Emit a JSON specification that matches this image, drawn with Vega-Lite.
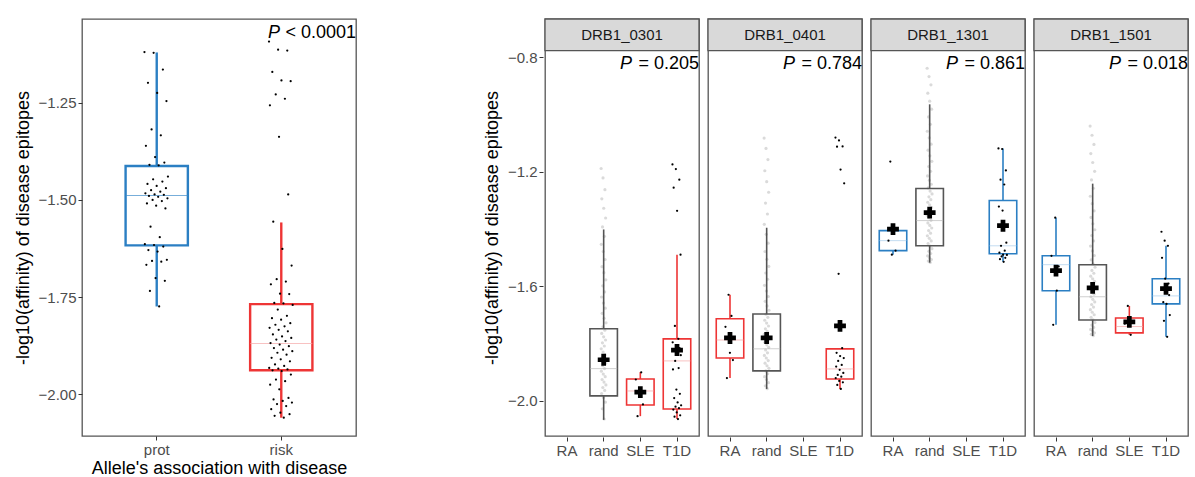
{
  "$schema": "https://vega.github.io/schema/vega-lite/v6.json",
  "background": "white",
  "padding": {"left": 13, "top": 17, "right": 2, "bottom": 0},
  "config": {
    "font": "Liberation Sans",
    "view": {"stroke": "#555555", "strokeWidth": 1.3},
    "axis": {"grid": false, "domain": false, "labelFontSize": 15, "labelColor": "#4D4D4D", "tickColor": "#333333", "tickSize": 4, "labelPadding": 2, "titleFontSize": 18, "titleFontWeight": "normal", "titleColor": "#000000", "titlePadding": 6},
    "axisX": {"labelAngle": 0, "titlePadding": 2}
  },
  "resolve": {"scale": {"color": "independent", "xOffset": "independent"}},
  "datasets": {
    "lstat": [
      {"g": "prot", "lo": -1.774, "q1": -1.617, "md": -1.489, "q3": -1.413, "hi": -1.121},
      {"g": "risk", "lo": -2.06, "q1": -1.938, "md": -1.869, "q3": -1.768, "hi": -1.558}
    ],
    "lab": [{"p": "< 0.0001"}],
    "lpts": [
      {"g":"prot","v":-1.120},{"g":"prot","v":-1.614},{"g":"prot","v":-1.483},{"g":"prot","v":-1.361},{"g":"prot","v":-1.667},{"g":"prot","v":-1.509},{"g":"prot","v":-1.459},{"g":"prot","v":-1.199},{"g":"prot","v":-1.629},{"g":"prot","v":-1.490},{"g":"prot","v":-1.410},{"g":"prot","v":-1.734},{"g":"prot","v":-1.569},{"g":"prot","v":-1.475},{"g":"prot","v":-1.319},{"g":"prot","v":-1.657},{"g":"prot","v":-1.500},{"g":"prot","v":-1.447},{"g":"prot","v":-1.122},{"g":"prot","v":-1.616},{"g":"prot","v":-1.486},{"g":"prot","v":-1.390},{"g":"prot","v":-1.701},{"g":"prot","v":-1.515},{"g":"prot","v":-1.464},{"g":"prot","v":-1.225},{"g":"prot","v":-1.633},{"g":"prot","v":-1.492},{"g":"prot","v":-1.411},{"g":"prot","v":-1.774},{"g":"prot","v":-1.596},{"g":"prot","v":-1.479},{"g":"prot","v":-1.334},{"g":"prot","v":-1.659},{"g":"prot","v":-1.503},{"g":"prot","v":-1.453},{"g":"prot","v":-1.165},{"g":"prot","v":-1.620},{"g":"prot","v":-1.487},{"g":"prot","v":-1.404},{"g":"prot","v":-1.708},{"g":"prot","v":-1.522},{"g":"prot","v":-1.470},{"g":"prot","v":-1.246},{"g":"prot","v":-1.654},{"g":"prot","v":-1.496},{"g":"prot","v":-1.440},
      {"g":"risk","v":-1.093},{"g":"risk","v":-1.932},{"g":"risk","v":-1.829},{"g":"risk","v":-1.257},{"g":"risk","v":-1.975},{"g":"risk","v":-1.868},{"g":"risk","v":-1.717},{"g":"risk","v":-2.038},{"g":"risk","v":-1.906},{"g":"risk","v":-1.804},{"g":"risk","v":-1.171},{"g":"risk","v":-1.938},{"g":"risk","v":-1.846},{"g":"risk","v":-1.556},{"g":"risk","v":-2.013},{"g":"risk","v":-1.881},{"g":"risk","v":-1.765},{"g":"risk","v":-2.055},{"g":"risk","v":-1.923},{"g":"risk","v":-1.821},{"g":"risk","v":-1.229},{"g":"risk","v":-1.962},{"g":"risk","v":-1.859},{"g":"risk","v":-1.704},{"g":"risk","v":-2.025},{"g":"risk","v":-1.893},{"g":"risk","v":-1.782},{"g":"risk","v":-1.114},{"g":"risk","v":-1.934},{"g":"risk","v":-1.834},{"g":"risk","v":-1.338},{"g":"risk","v":-1.987},{"g":"risk","v":-1.872},{"g":"risk","v":-1.741},{"g":"risk","v":-2.047},{"g":"risk","v":-1.910},{"g":"risk","v":-1.808},{"g":"risk","v":-1.193},{"g":"risk","v":-1.940},{"g":"risk","v":-1.851},{"g":"risk","v":-1.626},{"g":"risk","v":-2.017},{"g":"risk","v":-1.885},{"g":"risk","v":-1.766},{"g":"risk","v":-2.060},{"g":"risk","v":-1.927},{"g":"risk","v":-1.825},{"g":"risk","v":-1.240},{"g":"risk","v":-1.966},{"g":"risk","v":-1.863},{"g":"risk","v":-1.710},{"g":"risk","v":-2.030},{"g":"risk","v":-1.898},{"g":"risk","v":-1.798},{"g":"risk","v":-1.116},{"g":"risk","v":-1.936},{"g":"risk","v":-1.838},{"g":"risk","v":-1.486},{"g":"risk","v":-2.009},{"g":"risk","v":-1.876},{"g":"risk","v":-1.742},{"g":"risk","v":-2.051},{"g":"risk","v":-1.915},{"g":"risk","v":-1.817},{"g":"risk","v":-1.195},{"g":"risk","v":-1.949},{"g":"risk","v":-1.855},{"g":"risk","v":-1.669},{"g":"risk","v":-2.021},{"g":"risk","v":-1.889},{"g":"risk","v":-1.770}
    ],
    "right": [
      {"t":"s","a":"DRB1_0301","p":"= 0.205"},
      {"t":"s","a":"DRB1_0401","p":"= 0.784"},
      {"t":"s","a":"DRB1_1301","p":"= 0.861"},
      {"t":"s","a":"DRB1_1501","p":"= 0.018"},
      {"t":"b","a":"DRB1_0301","d":"rand","k":"rand","lo":-2.066,"q1":-1.982,"md":-1.887,"q3":-1.748,"hi":-1.401,"mn":-1.856},
      {"t":"b","a":"DRB1_0301","d":"SLE","k":"risk","lo":-2.053,"q1":-2.014,"md":-1.965,"q3":-1.923,"hi":-1.899,"mn":-1.969},
      {"t":"b","a":"DRB1_0301","d":"T1D","k":"risk","lo":-2.063,"q1":-2.028,"md":-1.860,"q3":-1.783,"hi":-1.489,"mn":-1.822},
      {"t":"b","a":"DRB1_0401","d":"RA","k":"risk","lo":-1.920,"q1":-1.850,"md":-1.787,"q3":-1.713,"hi":-1.629,"mn":-1.780},
      {"t":"b","a":"DRB1_0401","d":"rand","k":"rand","lo":-1.958,"q1":-1.895,"md":-1.818,"q3":-1.696,"hi":-1.395,"mn":-1.780},
      {"t":"b","a":"DRB1_0401","d":"T1D","k":"risk","lo":-1.958,"q1":-1.923,"md":-1.888,"q3":-1.818,"hi":-1.815,"mn":-1.738},
      {"t":"b","a":"DRB1_1301","d":"RA","k":"prot","lo":-1.489,"q1":-1.475,"md":-1.440,"q3":-1.405,"hi":-1.405,"mn":-1.400},
      {"t":"b","a":"DRB1_1301","d":"rand","k":"rand","lo":-1.517,"q1":-1.458,"md":-1.370,"q3":-1.258,"hi":-0.964,"mn":-1.342},
      {"t":"b","a":"DRB1_1301","d":"T1D","k":"prot","lo":-1.514,"q1":-1.486,"md":-1.458,"q3":-1.300,"hi":-1.118,"mn":-1.388},
      {"t":"b","a":"DRB1_1501","d":"RA","k":"prot","lo":-1.734,"q1":-1.615,"md":-1.524,"q3":-1.493,"hi":-1.360,"mn":-1.545},
      {"t":"b","a":"DRB1_1501","d":"rand","k":"rand","lo":-1.773,"q1":-1.717,"md":-1.636,"q3":-1.524,"hi":-1.241,"mn":-1.605},
      {"t":"b","a":"DRB1_1501","d":"SLE","k":"risk","lo":-1.769,"q1":-1.762,"md":-1.740,"q3":-1.710,"hi":-1.668,"mn":-1.724},
      {"t":"b","a":"DRB1_1501","d":"T1D","k":"prot","lo":-1.776,"q1":-1.661,"md":-1.633,"q3":-1.573,"hi":-1.458,"mn":-1.608},
      {"t":"p","a":"DRB1_0301","d":"SLE","v":-1.925},{"t":"p","a":"DRB1_0301","d":"SLE","v":-2.053},{"t":"p","a":"DRB1_0301","d":"SLE","v":-1.965},{"t":"p","a":"DRB1_0301","d":"SLE","v":-1.900},{"t":"p","a":"DRB1_0301","d":"SLE","v":-2.012},
      {"t":"p","a":"DRB1_0301","d":"T1D","v":-1.174},{"t":"p","a":"DRB1_0301","d":"T1D","v":-1.795},{"t":"p","a":"DRB1_0301","d":"T1D","v":-1.890},{"t":"p","a":"DRB1_0301","d":"T1D","v":-2.030},{"t":"p","a":"DRB1_0301","d":"T1D","v":-1.255},{"t":"p","a":"DRB1_0301","d":"T1D","v":-1.820},{"t":"p","a":"DRB1_0301","d":"T1D","v":-1.990},{"t":"p","a":"DRB1_0301","d":"T1D","v":-2.055},{"t":"p","a":"DRB1_0301","d":"T1D","v":-1.738},{"t":"p","a":"DRB1_0301","d":"T1D","v":-1.860},{"t":"p","a":"DRB1_0301","d":"T1D","v":-2.020},{"t":"p","a":"DRB1_0301","d":"T1D","v":-1.190},{"t":"p","a":"DRB1_0301","d":"T1D","v":-1.805},{"t":"p","a":"DRB1_0301","d":"T1D","v":-1.960},{"t":"p","a":"DRB1_0301","d":"T1D","v":-2.040},{"t":"p","a":"DRB1_0301","d":"T1D","v":-1.336},{"t":"p","a":"DRB1_0301","d":"T1D","v":-1.830},{"t":"p","a":"DRB1_0301","d":"T1D","v":-2.005},{"t":"p","a":"DRB1_0301","d":"T1D","v":-2.063},{"t":"p","a":"DRB1_0301","d":"T1D","v":-1.783},{"t":"p","a":"DRB1_0301","d":"T1D","v":-1.885},{"t":"p","a":"DRB1_0301","d":"T1D","v":-2.025},{"t":"p","a":"DRB1_0301","d":"T1D","v":-1.227},{"t":"p","a":"DRB1_0301","d":"T1D","v":-1.815},{"t":"p","a":"DRB1_0301","d":"T1D","v":-1.975},{"t":"p","a":"DRB1_0301","d":"T1D","v":-2.050},{"t":"p","a":"DRB1_0301","d":"T1D","v":-1.489},{"t":"p","a":"DRB1_0301","d":"T1D","v":-1.840},{"t":"p","a":"DRB1_0301","d":"T1D","v":-2.015},
      {"t":"p","a":"DRB1_0401","d":"RA","v":-1.741},{"t":"p","a":"DRB1_0401","d":"RA","v":-1.920},{"t":"p","a":"DRB1_0401","d":"RA","v":-1.629},{"t":"p","a":"DRB1_0401","d":"RA","v":-1.832},{"t":"p","a":"DRB1_0401","d":"RA","v":-1.703},{"t":"p","a":"DRB1_0401","d":"RA","v":-1.857},
      {"t":"p","a":"DRB1_0401","d":"T1D","v":-1.080},{"t":"p","a":"DRB1_0401","d":"T1D","v":-1.920},{"t":"p","a":"DRB1_0401","d":"T1D","v":-1.880},{"t":"p","a":"DRB1_0401","d":"T1D","v":-1.832},{"t":"p","a":"DRB1_0401","d":"T1D","v":-1.112},{"t":"p","a":"DRB1_0401","d":"T1D","v":-1.944},{"t":"p","a":"DRB1_0401","d":"T1D","v":-1.909},{"t":"p","a":"DRB1_0401","d":"T1D","v":-1.860},{"t":"p","a":"DRB1_0401","d":"T1D","v":-1.556},{"t":"p","a":"DRB1_0401","d":"T1D","v":-1.090},{"t":"p","a":"DRB1_0401","d":"T1D","v":-1.930},{"t":"p","a":"DRB1_0401","d":"T1D","v":-1.891},{"t":"p","a":"DRB1_0401","d":"T1D","v":-1.843},{"t":"p","a":"DRB1_0401","d":"T1D","v":-1.192},{"t":"p","a":"DRB1_0401","d":"T1D","v":-1.958},{"t":"p","a":"DRB1_0401","d":"T1D","v":-1.915},{"t":"p","a":"DRB1_0401","d":"T1D","v":-1.874},{"t":"p","a":"DRB1_0401","d":"T1D","v":-1.815},{"t":"p","a":"DRB1_0401","d":"T1D","v":-1.111},{"t":"p","a":"DRB1_0401","d":"T1D","v":-1.935},{"t":"p","a":"DRB1_0401","d":"T1D","v":-1.902},{"t":"p","a":"DRB1_0401","d":"T1D","v":-1.850},{"t":"p","a":"DRB1_0401","d":"T1D","v":-1.240},
      {"t":"p","a":"DRB1_1301","d":"RA","v":-1.440},{"t":"p","a":"DRB1_1301","d":"RA","v":-1.164},{"t":"p","a":"DRB1_1301","d":"RA","v":-1.489},{"t":"p","a":"DRB1_1301","d":"RA","v":-1.405},{"t":"p","a":"DRB1_1301","d":"RA","v":-1.475},
      {"t":"p","a":"DRB1_1301","d":"T1D","v":-1.118},{"t":"p","a":"DRB1_1301","d":"T1D","v":-1.321},{"t":"p","a":"DRB1_1301","d":"T1D","v":-1.482},{"t":"p","a":"DRB1_1301","d":"T1D","v":-1.505},{"t":"p","a":"DRB1_1301","d":"T1D","v":-1.227},{"t":"p","a":"DRB1_1301","d":"T1D","v":-1.458},{"t":"p","a":"DRB1_1301","d":"T1D","v":-1.495},{"t":"p","a":"DRB1_1301","d":"T1D","v":-1.120},{"t":"p","a":"DRB1_1301","d":"T1D","v":-1.335},{"t":"p","a":"DRB1_1301","d":"T1D","v":-1.489},{"t":"p","a":"DRB1_1301","d":"T1D","v":-1.514},{"t":"p","a":"DRB1_1301","d":"T1D","v":-1.244},{"t":"p","a":"DRB1_1301","d":"T1D","v":-1.475},{"t":"p","a":"DRB1_1301","d":"T1D","v":-1.500},{"t":"p","a":"DRB1_1301","d":"T1D","v":-1.195},{"t":"p","a":"DRB1_1301","d":"T1D","v":-1.447},{"t":"p","a":"DRB1_1301","d":"T1D","v":-1.490},
      {"t":"p","a":"DRB1_1501","d":"RA","v":-1.493},{"t":"p","a":"DRB1_1501","d":"RA","v":-1.734},{"t":"p","a":"DRB1_1501","d":"RA","v":-1.360},{"t":"p","a":"DRB1_1501","d":"RA","v":-1.615},{"t":"p","a":"DRB1_1501","d":"RA","v":-1.530},
      {"t":"p","a":"DRB1_1501","d":"SLE","v":-1.730},{"t":"p","a":"DRB1_1501","d":"SLE","v":-1.668},{"t":"p","a":"DRB1_1501","d":"SLE","v":-1.769},
      {"t":"p","a":"DRB1_1501","d":"T1D","v":-1.409},{"t":"p","a":"DRB1_1501","d":"T1D","v":-1.500},{"t":"p","a":"DRB1_1501","d":"T1D","v":-1.610},{"t":"p","a":"DRB1_1501","d":"T1D","v":-1.655},{"t":"p","a":"DRB1_1501","d":"T1D","v":-1.720},{"t":"p","a":"DRB1_1501","d":"T1D","v":-1.440},{"t":"p","a":"DRB1_1501","d":"T1D","v":-1.573},{"t":"p","a":"DRB1_1501","d":"T1D","v":-1.620},{"t":"p","a":"DRB1_1501","d":"T1D","v":-1.661},{"t":"p","a":"DRB1_1501","d":"T1D","v":-1.776},{"t":"p","a":"DRB1_1501","d":"T1D","v":-1.458},{"t":"p","a":"DRB1_1501","d":"T1D","v":-1.590},{"t":"p","a":"DRB1_1501","d":"T1D","v":-1.630},{"t":"p","a":"DRB1_1501","d":"T1D","v":-1.700},
      {"t":"r","a":"DRB1_0301","d":"rand","v":-1.188},{"t":"r","a":"DRB1_0301","d":"rand","v":-1.818},{"t":"r","a":"DRB1_0301","d":"rand","v":-1.453},{"t":"r","a":"DRB1_0301","d":"rand","v":-1.896},{"t":"r","a":"DRB1_0301","d":"rand","v":-1.637},{"t":"r","a":"DRB1_0301","d":"rand","v":-1.974},{"t":"r","a":"DRB1_0301","d":"rand","v":-1.764},{"t":"r","a":"DRB1_0301","d":"rand","v":-1.294},{"t":"r","a":"DRB1_0301","d":"rand","v":-1.849},{"t":"r","a":"DRB1_0301","d":"rand","v":-1.531},{"t":"r","a":"DRB1_0301","d":"rand","v":-1.925},{"t":"r","a":"DRB1_0301","d":"rand","v":-1.694},{"t":"r","a":"DRB1_0301","d":"rand","v":-2.027},{"t":"r","a":"DRB1_0301","d":"rand","v":-1.797},{"t":"r","a":"DRB1_0301","d":"rand","v":-1.392},{"t":"r","a":"DRB1_0301","d":"rand","v":-1.877},{"t":"r","a":"DRB1_0301","d":"rand","v":-1.598},{"t":"r","a":"DRB1_0301","d":"rand","v":-1.953},{"t":"r","a":"DRB1_0301","d":"rand","v":-1.741},{"t":"r","a":"DRB1_0301","d":"rand","v":-1.221},{"t":"r","a":"DRB1_0301","d":"rand","v":-1.829},{"t":"r","a":"DRB1_0301","d":"rand","v":-1.478},{"t":"r","a":"DRB1_0301","d":"rand","v":-1.906},{"t":"r","a":"DRB1_0301","d":"rand","v":-1.658},{"t":"r","a":"DRB1_0301","d":"rand","v":-1.988},{"t":"r","a":"DRB1_0301","d":"rand","v":-1.776},{"t":"r","a":"DRB1_0301","d":"rand","v":-1.327},{"t":"r","a":"DRB1_0301","d":"rand","v":-1.858},{"t":"r","a":"DRB1_0301","d":"rand","v":-1.552},{"t":"r","a":"DRB1_0301","d":"rand","v":-1.934},{"t":"r","a":"DRB1_0301","d":"rand","v":-1.711},{"t":"r","a":"DRB1_0301","d":"rand","v":-2.063},{"t":"r","a":"DRB1_0301","d":"rand","v":-1.808},{"t":"r","a":"DRB1_0301","d":"rand","v":-1.425},{"t":"r","a":"DRB1_0301","d":"rand","v":-1.887},{"t":"r","a":"DRB1_0301","d":"rand","v":-1.619},{"t":"r","a":"DRB1_0301","d":"rand","v":-1.963},{"t":"r","a":"DRB1_0301","d":"rand","v":-1.753},{"t":"r","a":"DRB1_0301","d":"rand","v":-1.262},{"t":"r","a":"DRB1_0301","d":"rand","v":-1.839},{"t":"r","a":"DRB1_0301","d":"rand","v":-1.506},{"t":"r","a":"DRB1_0301","d":"rand","v":-1.915},{"t":"r","a":"DRB1_0301","d":"rand","v":-1.676},{"t":"r","a":"DRB1_0301","d":"rand","v":-2.004},{"t":"r","a":"DRB1_0301","d":"rand","v":-1.787},{"t":"r","a":"DRB1_0301","d":"rand","v":-1.361},{"t":"r","a":"DRB1_0301","d":"rand","v":-1.868},{"t":"r","a":"DRB1_0301","d":"rand","v":-1.577},{"t":"r","a":"DRB1_0301","d":"rand","v":-1.944},{"t":"r","a":"DRB1_0301","d":"rand","v":-1.727},
      {"t":"r","a":"DRB1_0401","d":"rand","v":-1.082},{"t":"r","a":"DRB1_0401","d":"rand","v":-1.767},{"t":"r","a":"DRB1_0401","d":"rand","v":-1.383},{"t":"r","a":"DRB1_0401","d":"rand","v":-1.841},{"t":"r","a":"DRB1_0401","d":"rand","v":-1.596},{"t":"r","a":"DRB1_0401","d":"rand","v":-1.915},{"t":"r","a":"DRB1_0401","d":"rand","v":-1.718},{"t":"r","a":"DRB1_0401","d":"rand","v":-1.196},{"t":"r","a":"DRB1_0401","d":"rand","v":-1.795},{"t":"r","a":"DRB1_0401","d":"rand","v":-1.478},{"t":"r","a":"DRB1_0401","d":"rand","v":-1.868},{"t":"r","a":"DRB1_0401","d":"rand","v":-1.652},{"t":"r","a":"DRB1_0401","d":"rand","v":-1.947},{"t":"r","a":"DRB1_0401","d":"rand","v":-1.748},{"t":"r","a":"DRB1_0401","d":"rand","v":-1.309},{"t":"r","a":"DRB1_0401","d":"rand","v":-1.822},{"t":"r","a":"DRB1_0401","d":"rand","v":-1.553},{"t":"r","a":"DRB1_0401","d":"rand","v":-1.895},{"t":"r","a":"DRB1_0401","d":"rand","v":-1.697},{"t":"r","a":"DRB1_0401","d":"rand","v":-1.118},{"t":"r","a":"DRB1_0401","d":"rand","v":-1.776},{"t":"r","a":"DRB1_0401","d":"rand","v":-1.418},{"t":"r","a":"DRB1_0401","d":"rand","v":-1.850},{"t":"r","a":"DRB1_0401","d":"rand","v":-1.616},{"t":"r","a":"DRB1_0401","d":"rand","v":-1.925},{"t":"r","a":"DRB1_0401","d":"rand","v":-1.728},{"t":"r","a":"DRB1_0401","d":"rand","v":-1.234},{"t":"r","a":"DRB1_0401","d":"rand","v":-1.804},{"t":"r","a":"DRB1_0401","d":"rand","v":-1.505},{"t":"r","a":"DRB1_0401","d":"rand","v":-1.877},{"t":"r","a":"DRB1_0401","d":"rand","v":-1.668},{"t":"r","a":"DRB1_0401","d":"rand","v":-1.957},{"t":"r","a":"DRB1_0401","d":"rand","v":-1.757},{"t":"r","a":"DRB1_0401","d":"rand","v":-1.347},{"t":"r","a":"DRB1_0401","d":"rand","v":-1.832},{"t":"r","a":"DRB1_0401","d":"rand","v":-1.575},{"t":"r","a":"DRB1_0401","d":"rand","v":-1.905},{"t":"r","a":"DRB1_0401","d":"rand","v":-1.708},{"t":"r","a":"DRB1_0401","d":"rand","v":-1.157},{"t":"r","a":"DRB1_0401","d":"rand","v":-1.785},{"t":"r","a":"DRB1_0401","d":"rand","v":-1.449},{"t":"r","a":"DRB1_0401","d":"rand","v":-1.859},{"t":"r","a":"DRB1_0401","d":"rand","v":-1.635},{"t":"r","a":"DRB1_0401","d":"rand","v":-1.936},{"t":"r","a":"DRB1_0401","d":"rand","v":-1.738},{"t":"r","a":"DRB1_0401","d":"rand","v":-1.271},{"t":"r","a":"DRB1_0401","d":"rand","v":-1.813},{"t":"r","a":"DRB1_0401","d":"rand","v":-1.530},{"t":"r","a":"DRB1_0401","d":"rand","v":-1.886},{"t":"r","a":"DRB1_0401","d":"rand","v":-1.683},
      {"t":"r","a":"DRB1_1301","d":"rand","v":-0.838},{"t":"r","a":"DRB1_1301","d":"rand","v":-1.351},{"t":"r","a":"DRB1_1301","d":"rand","v":-1.058},{"t":"r","a":"DRB1_1301","d":"rand","v":-1.423},{"t":"r","a":"DRB1_1301","d":"rand","v":-1.214},{"t":"r","a":"DRB1_1301","d":"rand","v":-1.493},{"t":"r","a":"DRB1_1301","d":"rand","v":-1.306},{"t":"r","a":"DRB1_1301","d":"rand","v":-0.925},{"t":"r","a":"DRB1_1301","d":"rand","v":-1.378},{"t":"r","a":"DRB1_1301","d":"rand","v":-1.124},{"t":"r","a":"DRB1_1301","d":"rand","v":-1.450},{"t":"r","a":"DRB1_1301","d":"rand","v":-1.256},{"t":"r","a":"DRB1_1301","d":"rand","v":-1.511},{"t":"r","a":"DRB1_1301","d":"rand","v":-1.333},{"t":"r","a":"DRB1_1301","d":"rand","v":-1.008},{"t":"r","a":"DRB1_1301","d":"rand","v":-1.405},{"t":"r","a":"DRB1_1301","d":"rand","v":-1.181},{"t":"r","a":"DRB1_1301","d":"rand","v":-1.477},{"t":"r","a":"DRB1_1301","d":"rand","v":-1.287},{"t":"r","a":"DRB1_1301","d":"rand","v":-0.867},{"t":"r","a":"DRB1_1301","d":"rand","v":-1.360},{"t":"r","a":"DRB1_1301","d":"rand","v":-1.081},{"t":"r","a":"DRB1_1301","d":"rand","v":-1.432},{"t":"r","a":"DRB1_1301","d":"rand","v":-1.229},{"t":"r","a":"DRB1_1301","d":"rand","v":-1.500},{"t":"r","a":"DRB1_1301","d":"rand","v":-1.315},{"t":"r","a":"DRB1_1301","d":"rand","v":-0.953},{"t":"r","a":"DRB1_1301","d":"rand","v":-1.387},{"t":"r","a":"DRB1_1301","d":"rand","v":-1.144},{"t":"r","a":"DRB1_1301","d":"rand","v":-1.459},{"t":"r","a":"DRB1_1301","d":"rand","v":-1.267},{"t":"r","a":"DRB1_1301","d":"rand","v":-1.516},{"t":"r","a":"DRB1_1301","d":"rand","v":-1.342},{"t":"r","a":"DRB1_1301","d":"rand","v":-1.034},{"t":"r","a":"DRB1_1301","d":"rand","v":-1.414},{"t":"r","a":"DRB1_1301","d":"rand","v":-1.198},{"t":"r","a":"DRB1_1301","d":"rand","v":-1.485},{"t":"r","a":"DRB1_1301","d":"rand","v":-1.297},{"t":"r","a":"DRB1_1301","d":"rand","v":-0.896},{"t":"r","a":"DRB1_1301","d":"rand","v":-1.369},{"t":"r","a":"DRB1_1301","d":"rand","v":-1.103},{"t":"r","a":"DRB1_1301","d":"rand","v":-1.441},{"t":"r","a":"DRB1_1301","d":"rand","v":-1.243},{"t":"r","a":"DRB1_1301","d":"rand","v":-1.506},{"t":"r","a":"DRB1_1301","d":"rand","v":-1.324},{"t":"r","a":"DRB1_1301","d":"rand","v":-0.981},{"t":"r","a":"DRB1_1301","d":"rand","v":-1.396},{"t":"r","a":"DRB1_1301","d":"rand","v":-1.163},{"t":"r","a":"DRB1_1301","d":"rand","v":-1.468},{"t":"r","a":"DRB1_1301","d":"rand","v":-1.277},
      {"t":"r","a":"DRB1_1501","d":"rand","v":-1.040},{"t":"r","a":"DRB1_1501","d":"rand","v":-1.609},{"t":"r","a":"DRB1_1501","d":"rand","v":-1.285},{"t":"r","a":"DRB1_1501","d":"rand","v":-1.681},{"t":"r","a":"DRB1_1501","d":"rand","v":-1.459},{"t":"r","a":"DRB1_1501","d":"rand","v":-1.750},{"t":"r","a":"DRB1_1501","d":"rand","v":-1.564},{"t":"r","a":"DRB1_1501","d":"rand","v":-1.136},{"t":"r","a":"DRB1_1501","d":"rand","v":-1.636},{"t":"r","a":"DRB1_1501","d":"rand","v":-1.359},{"t":"r","a":"DRB1_1501","d":"rand","v":-1.708},{"t":"r","a":"DRB1_1501","d":"rand","v":-1.507},{"t":"r","a":"DRB1_1501","d":"rand","v":-1.767},{"t":"r","a":"DRB1_1501","d":"rand","v":-1.591},{"t":"r","a":"DRB1_1501","d":"rand","v":-1.228},{"t":"r","a":"DRB1_1501","d":"rand","v":-1.663},{"t":"r","a":"DRB1_1501","d":"rand","v":-1.422},{"t":"r","a":"DRB1_1501","d":"rand","v":-1.735},{"t":"r","a":"DRB1_1501","d":"rand","v":-1.544},{"t":"r","a":"DRB1_1501","d":"rand","v":-1.072},{"t":"r","a":"DRB1_1501","d":"rand","v":-1.618},{"t":"r","a":"DRB1_1501","d":"rand","v":-1.311},{"t":"r","a":"DRB1_1501","d":"rand","v":-1.690},{"t":"r","a":"DRB1_1501","d":"rand","v":-1.476},{"t":"r","a":"DRB1_1501","d":"rand","v":-1.756},{"t":"r","a":"DRB1_1501","d":"rand","v":-1.573},{"t":"r","a":"DRB1_1501","d":"rand","v":-1.167},{"t":"r","a":"DRB1_1501","d":"rand","v":-1.645},{"t":"r","a":"DRB1_1501","d":"rand","v":-1.381},{"t":"r","a":"DRB1_1501","d":"rand","v":-1.717},{"t":"r","a":"DRB1_1501","d":"rand","v":-1.521},{"t":"r","a":"DRB1_1501","d":"rand","v":-1.772},{"t":"r","a":"DRB1_1501","d":"rand","v":-1.600},{"t":"r","a":"DRB1_1501","d":"rand","v":-1.257},{"t":"r","a":"DRB1_1501","d":"rand","v":-1.672},{"t":"r","a":"DRB1_1501","d":"rand","v":-1.441},{"t":"r","a":"DRB1_1501","d":"rand","v":-1.743},{"t":"r","a":"DRB1_1501","d":"rand","v":-1.554},{"t":"r","a":"DRB1_1501","d":"rand","v":-1.104},{"t":"r","a":"DRB1_1501","d":"rand","v":-1.627},{"t":"r","a":"DRB1_1501","d":"rand","v":-1.336},{"t":"r","a":"DRB1_1501","d":"rand","v":-1.699},{"t":"r","a":"DRB1_1501","d":"rand","v":-1.492},{"t":"r","a":"DRB1_1501","d":"rand","v":-1.762},{"t":"r","a":"DRB1_1501","d":"rand","v":-1.582},{"t":"r","a":"DRB1_1501","d":"rand","v":-1.198},{"t":"r","a":"DRB1_1501","d":"rand","v":-1.654},{"t":"r","a":"DRB1_1501","d":"rand","v":-1.402},{"t":"r","a":"DRB1_1501","d":"rand","v":-1.726},{"t":"r","a":"DRB1_1501","d":"rand","v":-1.533}
    ]
  },
  "spacing": 126,
  "hconcat": [
    {
      "width": 274,
      "height": 417,
      "resolve": {"scale": {"xOffset": "independent"}},
      "layer": [
        {
          "data": {"name": "lstat"},
          "mark": {"type": "rule", "strokeWidth": 2.4},
          "encoding": {
            "x": {"field": "g", "type": "nominal", "scale": {"domain": ["prot", "risk"], "paddingInner": 0, "paddingOuter": 0.1}, "axis": {"title": "Allele's association with disease"}},
            "y": {"field": "hi", "type": "quantitative", "scale": {"domain": [-2.107, -1.035], "nice": false, "zero": false}, "axis": {"values": [-2, -1.75, -1.5, -1.25], "format": ".2f", "labelExpr": "replace(datum.label, '-', '\u2212')", "title": "-log10(affinity) of disease epitopes"}},
            "y2": {"field": "q3"},
            "color": {"field": "g", "type": "nominal", "scale": {"domain": ["prot", "risk"], "range": ["#2B7FC3", "#EE3535"]}, "legend": null}
          }
        },
        {
          "data": {"name": "lstat"},
          "mark": {"type": "rule", "strokeWidth": 2.4},
          "encoding": {
            "x": {"field": "g", "type": "nominal"},
            "y": {"field": "q1", "type": "quantitative"},
            "y2": {"field": "lo"},
            "color": {"field": "g", "type": "nominal", "legend": null}
          }
        },
        {
          "data": {"name": "lstat"},
          "mark": {"type": "bar", "filled": false, "strokeWidth": 2.4, "width": {"band": 0.5}},
          "encoding": {
            "x": {"field": "g", "type": "nominal"},
            "y": {"field": "q1", "type": "quantitative"},
            "y2": {"field": "q3"},
            "color": {"field": "g", "type": "nominal", "legend": null}
          }
        },
        {
          "data": {"name": "lstat"},
          "mark": {"type": "tick", "thickness": 1, "size": 62},
          "encoding": {
            "x": {"field": "g", "type": "nominal"},
            "y": {"field": "md", "type": "quantitative"},
            "color": {"condition": {"test": "datum.g === 'risk'", "value": "#F5A8A8"}, "value": "#3D8BCB"}
          }
        },
        {
          "data": {"name": "lpts"},
          "transform": [{"stack": "v", "groupby": ["g"], "offset": "normalize", "as": ["j0", "j1"]}],
          "mark": {"type": "circle", "size": 5, "opacity": 1, "color": "#000000"},
          "encoding": {
            "x": {"field": "g", "type": "nominal"},
            "y": {"field": "v", "type": "quantitative"},
            "xOffset": {"field": "j0", "type": "quantitative", "scale": {"domain": [0, 1], "range": [50, 74]}}
          }
        },
        {
          "data": {"name": "lab"},
          "mark": {"type": "text", "align": "right", "baseline": "middle", "fontSize": 18, "color": "#000000"},
          "encoding": {
            "x": {"value": "width"},
            "y": {"datum": -1.072},
            "text": {"field": "p"}
          }
        },
        {
          "data": {"name": "lab"},
          "mark": {"type": "text", "align": "right", "baseline": "middle", "fontSize": 18, "fontStyle": "italic", "color": "#000000", "dx": -76, "text": "P"},
          "encoding": {
            "x": {"value": "width"},
            "y": {"datum": -1.072}
          }
        }
      ]
    },
    {
      "data": {"name": "right"},
      "facet": {"column": {"field": "a", "type": "nominal", "header": {"title": null, "labels": false}}},
      "spacing": 5,
      "resolve": {"scale": {"xOffset": "independent"}},
      "spec": {
        "width": 154,
        "height": 417,
        "resolve": {"scale": {"xOffset": "independent"}},
        "layer": [
          {
            "transform": [{"filter": "datum.t === 's'"}],
            "mark": {"type": "rect", "fill": "#D9D9D9", "stroke": "#555555", "strokeWidth": 1.3},
            "encoding": {
              "y": {"datum": -0.7766, "type": "quantitative", "scale": {"domain": [-2.1223, -0.666], "nice": false, "zero": false}, "axis": {"values": [-2, -1.6, -1.2, -0.8], "format": ".1f", "labelExpr": "replace(datum.label, '-', '\u2212')", "title": "-log10(affinity) of disease epitopes"}},
              "y2": {"datum": -0.666}
            }
          },
          {
            "transform": [{"filter": "datum.t === 's'"}],
            "mark": {"type": "text", "baseline": "middle", "fontSize": 15, "color": "#1A1A1A"},
            "encoding": {
              "y": {"datum": -0.721, "type": "quantitative"},
              "text": {"field": "a"}
            }
          },
          {
            "transform": [{"filter": "datum.t === 'b'"}],
            "mark": {"type": "rule", "strokeWidth": 1.6},
            "encoding": {
              "x": {"field": "d", "type": "nominal", "scale": {"domain": ["RA", "rand", "SLE", "T1D"], "paddingInner": 0, "paddingOuter": 0.1}, "axis": {"title": null}},
              "y": {"field": "hi", "type": "quantitative"},
              "y2": {"field": "q3"},
              "color": {"field": "k", "type": "nominal", "scale": {"domain": ["prot", "rand", "risk"], "range": ["#2B7FC3", "#555555", "#EE3535"]}, "legend": null}
            }
          },
          {
            "transform": [{"filter": "datum.t === 'b'"}],
            "mark": {"type": "rule", "strokeWidth": 1.6},
            "encoding": {
              "x": {"field": "d", "type": "nominal"},
              "y": {"field": "q1", "type": "quantitative"},
              "y2": {"field": "lo"},
              "color": {"field": "k", "type": "nominal", "legend": null}
            }
          },
          {
            "transform": [{"filter": "datum.t === 'r'"}, {"stack": "v", "groupby": ["a", "d"], "offset": "normalize", "as": ["j0", "j1"]}],
            "mark": {"type": "circle", "size": 10, "opacity": 0.2, "color": "#444444"},
            "encoding": {
              "x": {"field": "d", "type": "nominal"},
              "y": {"field": "v", "type": "quantitative"},
              "xOffset": {"field": "j0", "type": "quantitative", "scale": {"domain": [0, 1], "range": [15.8, 20.8]}}
            }
          },
          {
            "transform": [{"filter": "datum.t === 'b'"}],
            "mark": {"type": "bar", "filled": false, "strokeWidth": 1.6, "width": {"band": 0.75}},
            "encoding": {
              "x": {"field": "d", "type": "nominal"},
              "y": {"field": "q1", "type": "quantitative"},
              "y2": {"field": "q3"},
              "color": {"field": "k", "type": "nominal", "legend": null}
            }
          },
          {
            "transform": [{"filter": "datum.t === 'b'"}],
            "mark": {"type": "tick", "thickness": 1, "size": 27},
            "encoding": {
              "x": {"field": "d", "type": "nominal"},
              "y": {"field": "md", "type": "quantitative"},
              "color": {"condition": [{"test": "datum.k === 'risk'", "value": "#F5A8A8"}, {"test": "datum.k === 'prot'", "value": "#A9CDEB"}], "value": "#BBBBBB"}
            }
          },
          {
            "transform": [{"filter": "datum.t === 'p'"}, {"stack": "v", "groupby": ["a", "d"], "offset": "normalize", "as": ["j0", "j1"]}],
            "mark": {"type": "circle", "size": 5, "opacity": 1, "color": "#000000"},
            "encoding": {
              "x": {"field": "d", "type": "nominal"},
              "y": {"field": "v", "type": "quantitative"},
              "xOffset": {"field": "j0", "type": "quantitative", "scale": {"domain": [0, 1], "range": [13.8, 22.8]}}
            }
          },
          {
            "transform": [{"filter": "datum.t === 'b'"}],
            "mark": {"type": "point", "shape": "cross", "filled": true, "size": 140, "opacity": 1, "color": "#000000"},
            "encoding": {
              "x": {"field": "d", "type": "nominal"},
              "y": {"field": "mn", "type": "quantitative"}
            }
          },
          {
            "transform": [{"filter": "datum.t === 's'"}],
            "mark": {"type": "text", "align": "right", "baseline": "middle", "fontSize": 18, "color": "#000000"},
            "encoding": {
              "x": {"value": "width"},
              "y": {"datum": -0.823, "type": "quantitative"},
              "text": {"field": "p"}
            }
          },
          {
            "transform": [{"filter": "datum.t === 's'"}],
            "mark": {"type": "text", "align": "right", "baseline": "middle", "fontSize": 18, "fontStyle": "italic", "color": "#000000", "dx": -67, "text": "P"},
            "encoding": {
              "x": {"value": "width"},
              "y": {"datum": -0.823, "type": "quantitative"}
            }
          }
        ]
      }
    }
  ]
}
